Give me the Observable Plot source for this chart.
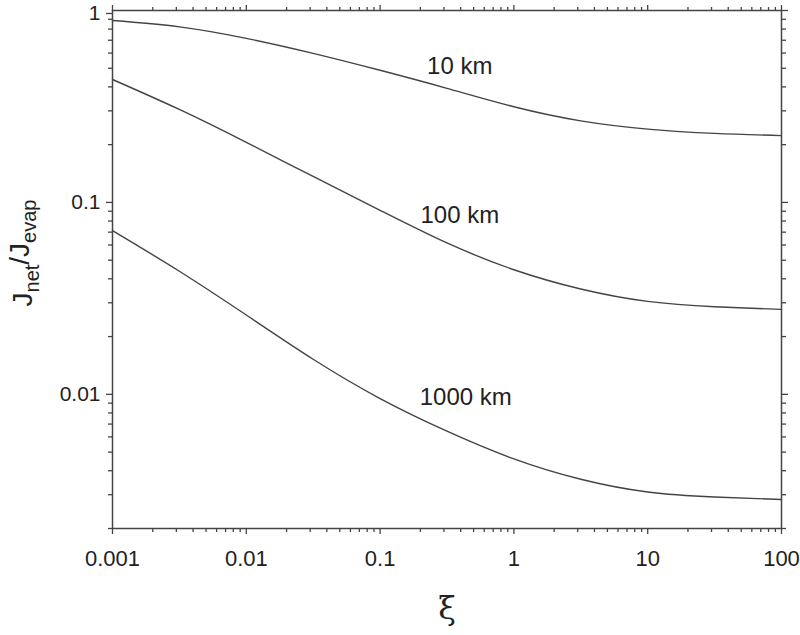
<!DOCTYPE html>
<html>
<head>
<meta charset="utf-8">
<script src="https://cdn.jsdelivr.net/npm/d3@7"></script>
<script src="https://cdn.jsdelivr.net/npm/@observablehq/plot@0.6"></script>
<style>
  html, body { margin: 0; padding: 0; background: #fff; }
  svg { display: block; }
</style>
</head>
<body>
<div id="chart"></div>
<script>
// ξ sample points (half-decade steps)
const xi = [0.001, 0.00316, 0.01, 0.0316, 0.1, 0.316, 1, 3.16, 10, 31.6, 100];
// Jnet/Jevap per distance
const series = ["10 km", "100 km", "1000 km"];
const j10   = [0.887, 0.822, 0.716, 0.598, 0.488, 0.393, 0.315, 0.266, 0.241, 0.229, 0.223];
const j100  = [0.437, 0.305, 0.2056, 0.1365, 0.0910, 0.0615, 0.0446, 0.0354, 0.0305, 0.0286, 0.0277];
const j1000 = [0.0713, 0.0438, 0.0259, 0.01524, 0.00951, 0.00643, 0.00461, 0.00361, 0.00310, 0.00292, 0.00283];
// curve label anchors (data space)
const labelX = [0.394, 0.394, 0.437];
const labelY = [0.511, 0.0853, 0.0096];
// ticks
const xMajor = [0.001, 0.01, 0.1, 1, 10, 100];
const xMajorLabels = ["0.001", "0.01", "0.1", "1", "10", "100"];
const yMajor = [1, 0.1, 0.01];
const yMajorLabels = ["1", "0.1", "0.01"];

const xMinor = [];
for (const d of [0.001, 0.01, 0.1, 1, 10]) for (let k = 2; k <= 9; k++) xMinor.push(+(k * d).toPrecision(3));
const yMinor = [];
for (const d of [0.001, 0.01, 0.1]) for (let k = 2; k <= 9; k++) { const v = +(k * d).toPrecision(3); if (v >= 0.002) yMinor.push(v); }

const allY = [j10, j100, j1000];
const data = [];
series.forEach((s, i) => xi.forEach((x, k) => data.push({series: s, x, y: allY[i][k]})));
const labels = series.map((s, i) => ({text: s, x: labelX[i], y: labelY[i]}));

const ink = "#444";
const txt = "#222";
const blank = () => "";
const yFmt = d => yMajorLabels[yMajor.indexOf(d)];

const plot = Plot.plot({
  width: 800,
  height: 635,
  marginLeft: 112,
  marginRight: 19,
  marginTop: 10,
  marginBottom: 107,
  style: {fontFamily: "'Liberation Sans', Arial, sans-serif", color: txt, background: "#fff"},
  x: {type: "log", domain: [0.001, 100]},
  y: {type: "log", domain: [0.002, 1]},
  marks: [
    Plot.axisX({anchor: "bottom", ticks: xMajor, tickSize: 6, tickPadding: 16, fontSize: 22, stroke: ink, strokeWidth: 1.3,
      tickFormat: d => xMajorLabels[xMajor.indexOf(d)], label: null}),
    Plot.axisX({anchor: "bottom", ticks: xMinor, tickSize: 4, tickFormat: blank, stroke: ink, strokeWidth: 1.3, label: null}),
    Plot.axisX({anchor: "top", ticks: xMajor, tickSize: 6, tickFormat: blank, stroke: ink, strokeWidth: 1.3, label: null}),
    Plot.axisX({anchor: "top", ticks: xMinor, tickSize: 4, tickFormat: blank, stroke: ink, strokeWidth: 1.3, label: null}),
    Plot.axisY({anchor: "left", ticks: yMajor.slice(1), tickSize: 6, tickPadding: 6, fontSize: 21, stroke: ink, strokeWidth: 1.3,
      tickFormat: yFmt, label: null}),
    Plot.axisY({anchor: "left", ticks: yMajor.slice(0, 1), tickSize: 6, tickPadding: 6, fontSize: 21, dy: 3, stroke: ink, strokeWidth: 1.3,
      tickFormat: yFmt, label: null}),
    Plot.axisY({anchor: "left", ticks: yMinor, tickSize: 4, tickFormat: blank, stroke: ink, strokeWidth: 1.3, label: null}),
    Plot.axisY({anchor: "right", ticks: yMajor, tickSize: 6, tickFormat: blank, stroke: ink, strokeWidth: 1.3, label: null}),
    Plot.axisY({anchor: "right", ticks: yMinor, tickSize: 4, tickFormat: blank, stroke: ink, strokeWidth: 1.3, label: null}),
    Plot.frame({stroke: ink, strokeWidth: 1.5}),
    Plot.line(data, {x: "x", y: "y", z: "series", curve: "natural", stroke: ink, strokeWidth: 1.4}),
    Plot.text(labels, {x: "x", y: "y", text: "text", fontSize: 24, fill: txt})
  ]
});

const svg = d3.select(plot);
// y-axis title with subscripts
const yt = svg.append("text")
  .attr("transform", "translate(32,253) rotate(-90)")
  .attr("text-anchor", "middle")
  .attr("fill", txt)
  .attr("font-family", "'Liberation Sans', Arial, sans-serif")
  .attr("font-size", 28);
yt.append("tspan").text("J");
yt.append("tspan").attr("font-size", 20).attr("dy", "0.35em").text("net");
yt.append("tspan").attr("dy", "-0.35em").text("/J");
yt.append("tspan").attr("font-size", 20).attr("dy", "0.35em").text("evap");
// x-axis title
svg.append("text")
  .attr("x", 447).attr("y", 619)
  .attr("text-anchor", "middle")
  .attr("fill", txt)
  .attr("font-family", "'DejaVu Serif', 'Liberation Serif', serif")
  .attr("font-size", 32)
  .text("ξ");

document.getElementById("chart").appendChild(plot);
</script>
</body>
</html>
